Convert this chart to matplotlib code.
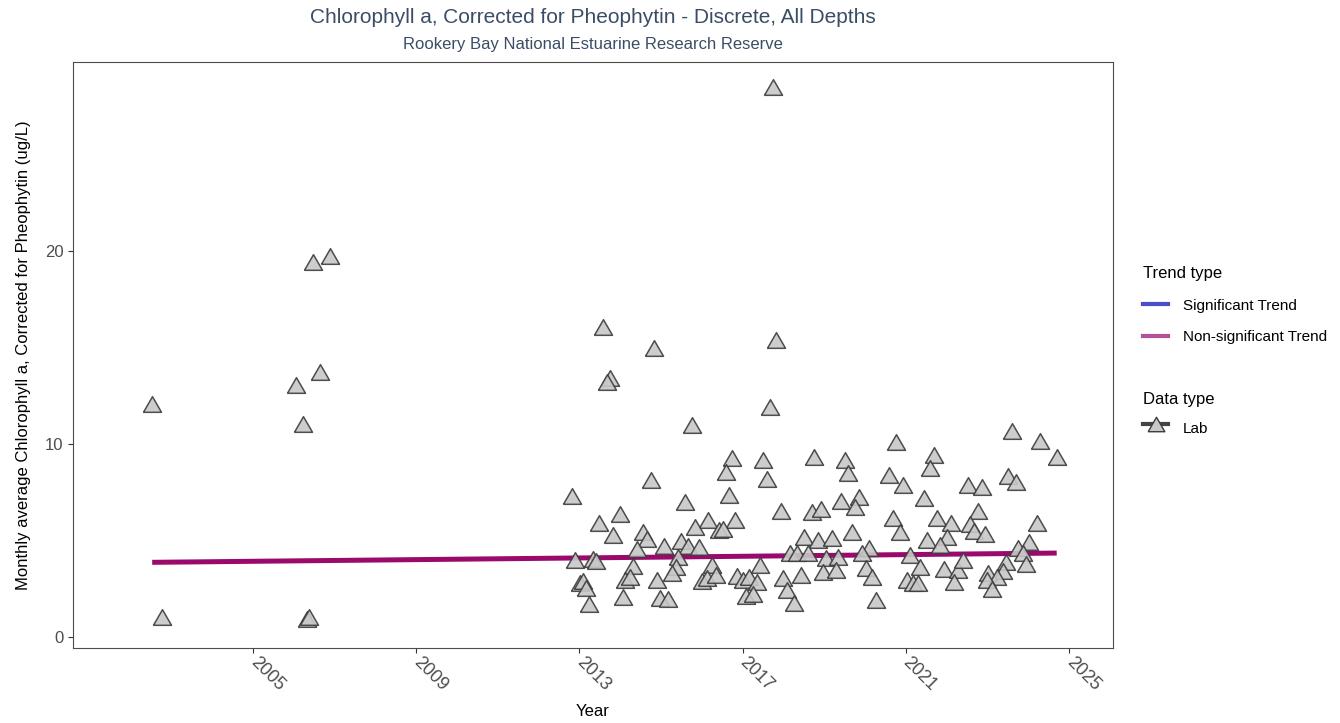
import matplotlib.pyplot as plt
from matplotlib.lines import Line2D

plt.rcParams['font.family'] = ['Liberation Sans', 'DejaVu Sans']

# monthly averages (decimal year, ug/L)
year = [2002.53, 2002.78, 2006.05, 2006.22, 2006.32, 2006.38, 2006.48, 2006.64, 2006.89,
        2013.58, 2014.83, 2013.75, 2013.67, 2015.76, 2016.74, 2016.59, 2014.76, 2012.82, 2016.67,
        2015.59, 2014.00, 2013.48, 2016.81, 2013.82, 2014.56, 2014.66, 2016.15, 2015.83, 2016.42,
        2016.52, 2014.41, 2015.07, 2015.49, 2015.66, 2015.93, 2012.89, 2013.33, 2013.41, 2015.42,
        2014.31, 2015.37, 2016.25, 2014.12, 2014.24, 2014.90, 2015.27, 2016.00, 2016.13, 2016.35,
        2016.86, 2013.01, 2013.08, 2013.16, 2014.07, 2014.98, 2015.17, 2013.24,
        2017.74, 2017.82, 2017.67, 2017.50, 2018.75, 2017.60, 2017.94, 2018.70, 2018.92, 2018.50,
        2018.85, 2018.16, 2018.33, 2018.60, 2019.04, 2017.43, 2017.00, 2017.16, 2017.35, 2018.00,
        2018.43, 2018.97, 2017.09, 2017.26, 2018.09, 2018.26,
        2020.76, 2019.51, 2021.69, 2019.58, 2021.59, 2020.59, 2020.93, 2019.41, 2019.85, 2019.75,
        2021.45, 2020.69, 2021.76, 2022.11, 2020.86, 2019.68, 2019.19, 2021.52, 2022.01, 2021.84,
        2020.10, 2019.93, 2021.10, 2019.34, 2019.29, 2020.02, 2020.17, 2021.35, 2021.94, 2022.28,
        2021.03, 2021.17, 2021.30, 2022.18, 2020.27,
        2023.60, 2024.29, 2024.70, 2023.50, 2023.70, 2022.52, 2022.87, 2022.77, 2024.22, 2022.57,
        2022.67, 2022.94, 2024.02, 2023.75, 2023.87, 2022.40, 2023.46, 2023.95, 2023.38, 2023.01,
        2023.24, 2022.98, 2023.11]
chla = [12.05, 1.05, 13.08, 11.02, 0.95, 1.05, 19.43, 13.73, 19.73,
        16.06, 14.97, 13.40, 13.20, 11.00, 9.27, 8.55, 8.13, 7.30, 7.36,
        6.99, 6.37, 5.90, 6.06, 5.28, 5.44, 5.08, 6.06, 5.70, 5.54,
        5.60, 4.56, 4.70, 4.97, 4.70, 4.66, 3.99, 4.04, 3.94, 4.15,
        3.68, 3.63, 3.73, 2.95, 3.10, 2.95, 3.30, 2.90, 3.06, 3.20,
        3.16, 2.80, 2.90, 2.54, 2.07, 2.02, 1.97, 1.71,
        28.50, 15.40, 11.90, 9.17, 9.33, 8.19, 6.53, 6.48, 6.63, 5.18,
        5.03, 4.35, 4.35, 4.35, 4.10, 3.73, 2.95, 3.11, 2.85, 3.06,
        3.21, 3.37, 2.12, 2.23, 2.44, 1.76,
        10.10, 9.17, 9.43, 8.50, 8.76, 8.39, 7.88, 7.05, 7.25, 6.74,
        7.20, 6.17, 6.17, 5.90, 5.44, 5.44, 5.13, 5.03, 5.18, 4.77,
        4.61, 4.35, 4.25, 4.15, 3.47, 3.58, 3.10, 3.63, 3.52, 3.47,
        2.95, 2.80, 2.80, 2.85, 1.92,
        10.67, 10.16, 9.33, 8.34, 8.03, 7.88, 7.77, 6.53, 5.90, 5.85,
        5.49, 5.34, 4.92, 4.61, 4.35, 3.99, 3.88, 3.78, 3.42, 3.32,
        3.11, 2.95, 2.49]

trend_year = [2002.53, 2024.70]
trend_val = [3.87, 4.35]

year_ticks = [2005, 2009, 2013, 2017, 2021, 2025]
val_ticks = [0, 10, 20]

# equilateral triangle centred on the point
tri = [(-1, -0.866), (1, -0.866), (0, 0.866), (-1, -0.866)]

fig = plt.figure(figsize=(13.4, 7.23), dpi=100)
ax = fig.add_axes([0.0545, 0.1037, 0.7761, 0.8105])

ax.plot(trend_year, trend_val, color='#990a6c', linewidth=3.6, solid_capstyle='butt', zorder=2)
ax.plot(year, chla, linestyle='none', marker=tri, markersize=13,
        markerfacecolor='#c8c8c8', markeredgecolor='#3c3c3c', markeredgewidth=1.1,
        alpha=0.9, zorder=3)

ax.set_xlim(2000.59, 2026.08)
ax.set_ylim(-0.57, 29.79)
ax.set_xticks(year_ticks)
ax.set_yticks(val_ticks)
ax.set_xticklabels([str(t) for t in year_ticks], rotation=-45, ha='left', va='center',
                   rotation_mode='anchor')
ax.tick_params(axis='both', length=3.5, width=0.8, color='#333333', labelcolor='#4d4d4d',
               labelsize=12)
ax.tick_params(axis='x', pad=5, labelsize=13)
for s in ax.spines.values():
    s.set_color('#4d4d4d')
    s.set_linewidth(0.8)

ax.set_xlabel('Year', fontsize=12, labelpad=7)
ax.set_ylabel('Monthly average Chlorophyll a, Corrected for Pheophytin (ug/L)', fontsize=12, labelpad=10)

fig.text(0.4425, 0.976, 'Chlorophyll a, Corrected for Pheophytin - Discrete, All Depths',
         ha='center', va='center', fontsize=15, color='#3b4d66')
fig.text(0.4425, 0.939, 'Rookery Bay National Estuarine Research Reserve',
         ha='center', va='center', fontsize=12, color='#3b4d66')

trend_handles = [Line2D([], [], color='#4a4ec4', linewidth=3),
                 Line2D([], [], color='#b0529c', linewidth=3)]
leg1 = ax.legend(trend_handles, ['Significant Trend', 'Non-significant Trend'],
                 title='Trend type', loc='upper left', bbox_to_anchor=(1.016, 0.675),
                 frameon=False, fontsize=11, title_fontsize=12, handlelength=1.6,
                 handletextpad=1.0, alignment='left', labelspacing=1.15)
ax.add_artist(leg1)
lab_handle = Line2D([], [], color='#444444', linewidth=3, marker=tri, markersize=12,
                    markerfacecolor='#c8c8c8', markeredgecolor='#3c3c3c')
ax.legend([lab_handle], ['Lab'], title='Data type', loc='upper left',
          bbox_to_anchor=(1.016, 0.46), frameon=False, fontsize=11, title_fontsize=12,
          handlelength=1.6, handletextpad=1.0, alignment='left', handleheight=2.3)

fig.savefig('out.png', dpi=100)
